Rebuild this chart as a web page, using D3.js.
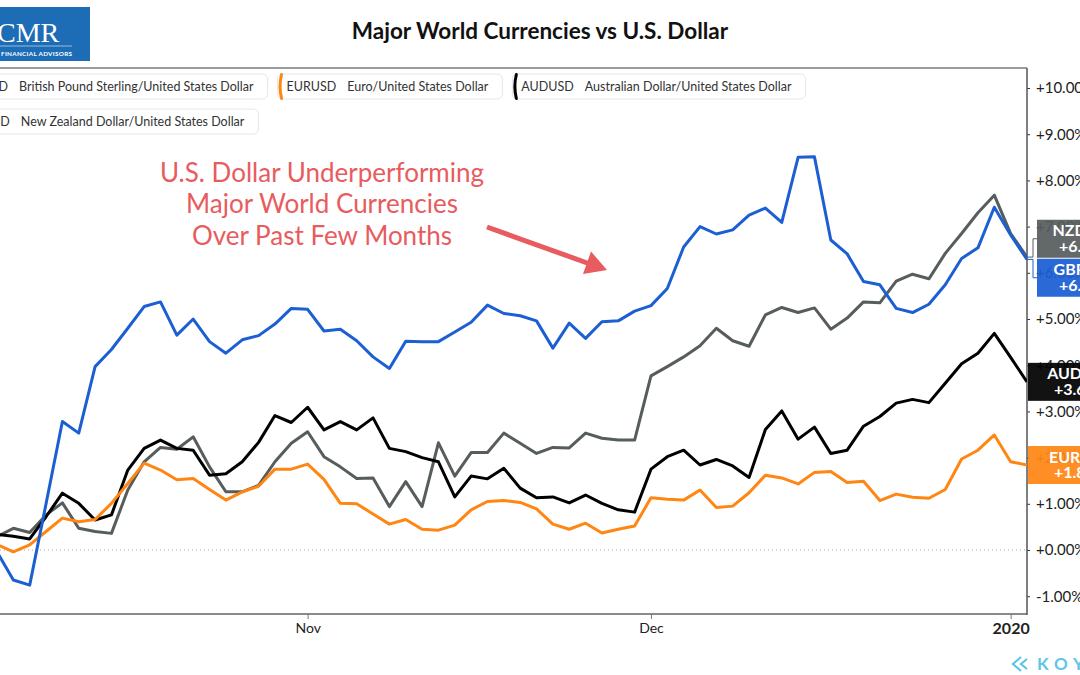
<!DOCTYPE html>
<html><head><meta charset="utf-8">
<script src="https://cdn.jsdelivr.net/npm/d3@7"></script>
<style>
html,body{margin:0;padding:0;background:#fff;}
svg{display:block;font-family:Lato,'Open Sans',sans-serif;}
</style></head><body>
<svg id="chart" width="1080" height="675"></svg>
<script>
// ---------- DATA ----------
const dates = [
 "2019-10-07","2019-10-08","2019-10-09","2019-10-10","2019-10-11",
 "2019-10-14","2019-10-15","2019-10-16","2019-10-17","2019-10-18",
 "2019-10-21","2019-10-22","2019-10-23","2019-10-24","2019-10-25",
 "2019-10-28","2019-10-29","2019-10-30","2019-10-31",
 "2019-11-01","2019-11-04","2019-11-05","2019-11-06","2019-11-07","2019-11-08",
 "2019-11-11","2019-11-12","2019-11-13","2019-11-14","2019-11-15",
 "2019-11-18","2019-11-19","2019-11-20","2019-11-21","2019-11-22",
 "2019-11-25","2019-11-26","2019-11-27","2019-11-28","2019-11-29",
 "2019-12-02","2019-12-03","2019-12-04","2019-12-05","2019-12-06",
 "2019-12-09","2019-12-10","2019-12-11","2019-12-12","2019-12-13",
 "2019-12-16","2019-12-17","2019-12-18","2019-12-19","2019-12-20",
 "2019-12-23","2019-12-24","2019-12-25","2019-12-26","2019-12-27",
 "2019-12-30","2019-12-31","2020-01-01","2020-01-02"];

const gbpusd = [-0.04,-0.65,-0.76,1.00,2.78,2.53,3.97,4.34,4.80,5.27,5.37,4.65,5.00,4.51,4.26,4.55,
 4.64,4.89,5.23,5.21,4.74,4.78,4.53,4.18,3.93,4.52,4.51,4.51,4.72,4.93,5.30,5.12,
 5.07,4.96,4.37,4.91,4.58,4.94,4.96,5.17,5.29,5.66,6.56,7.00,6.84,6.93,7.25,7.40,
 7.09,8.50,8.51,6.71,6.41,5.81,5.74,5.23,5.14,5.32,5.74,6.31,6.54,7.42,6.82,6.29];

const eurusd = [0.12,-0.04,0.11,0.40,0.69,0.61,0.66,1.01,1.44,1.88,1.73,1.52,1.55,1.31,1.08,1.26,
 1.38,1.75,1.75,1.86,1.53,1.01,1.00,0.78,0.56,0.66,0.45,0.43,0.54,0.87,1.05,1.07,
 1.03,0.89,0.56,0.45,0.58,0.37,0.45,0.52,1.13,1.10,1.08,1.30,0.92,0.95,1.24,1.62,
 1.56,1.43,1.68,1.70,1.46,1.49,1.07,1.21,1.14,1.12,1.31,1.97,2.16,2.49,1.91,1.84];

const audusd = [0.34,0.30,0.24,0.72,1.23,1.01,0.65,0.76,1.73,2.20,2.38,2.20,2.16,1.62,1.65,1.91,
 2.33,2.91,2.76,3.09,2.60,2.78,2.60,2.86,2.20,2.13,2.00,1.91,1.15,1.60,1.54,1.77,
 1.34,1.13,1.15,1.02,1.19,1.01,0.87,0.82,1.75,2.02,2.16,1.84,1.96,1.82,1.57,2.61,
 3.01,2.40,2.66,2.09,2.16,2.68,2.89,3.18,3.26,3.19,3.61,4.03,4.26,4.69,4.17,3.64];

const nzdusd = [0.29,0.47,0.38,0.76,1.02,0.47,0.40,0.36,1.30,1.91,2.22,2.18,2.45,1.80,1.26,1.26,
 1.40,1.91,2.31,2.56,2.02,1.80,1.55,1.56,0.94,1.48,0.94,2.32,1.60,2.11,2.11,2.53,
 2.31,2.09,2.22,2.21,2.53,2.42,2.38,2.38,3.77,3.97,4.18,4.42,4.80,4.53,4.41,5.09,
 5.25,5.14,5.24,4.78,5.02,5.37,5.35,5.82,5.97,5.87,6.42,6.85,7.30,7.68,6.85,6.34];

const seriesCodes  = ["GBPUSD","EURUSD","AUDUSD","NZDUSD"];
const seriesNames  = ["British Pound Sterling/United States Dollar","Euro/United States Dollar",
                      "Australian Dollar/United States Dollar","New Zealand Dollar/United States Dollar"];
const seriesValues = [gbpusd, eurusd, audusd, nzdusd];
const seriesColors = ["#1b5fd3","#ff8613","#000000","#575c5c"];

const yTickValues = [-1,0,1,2,3,4,5,6,7,8,9,10];
const xTickDates  = ["2019-11-01","2019-12-02","2020-01-01"];
const xTickLabels = ["Nov","Dec","2020"];

const titleText = "Major World Currencies vs U.S. Dollar";
const noteLines = ["U.S. Dollar Underperforming","Major World Currencies","Over Past Few Months"];

// ---------- LAYOUT ----------
const svg = d3.select("#chart");
const plot = {left:0, right:1027, top:68, bottom:614};
const red = "#e85b5e";

const x = d3.scaleLinear().domain([0, dates.length-1]).range([-3, 1027]);
const y = d3.scaleLinear().domain([-1.385, 10.433]).range([plot.bottom, plot.top]);

// logo
const logo = svg.append("g");
logo.append("rect").attr("x",0).attr("y",7).attr("width",90).attr("height",54).attr("fill","#1d6cb6");
logo.append("text").attr("x",-3).attr("y",42).attr("fill","#fff")
  .attr("font-family","'Liberation Serif','DejaVu Serif',serif").attr("font-size",28).text("CMR");
logo.append("line").attr("x1",0).attr("x2",72).attr("y1",46).attr("y2",46).attr("stroke","#fff").attr("stroke-width",0.7).attr("opacity",0.8);
logo.append("text").attr("x",1).attr("y",55.5).attr("fill","#fff").attr("font-size",6.3).attr("font-weight",700)
  .attr("textLength",71).attr("lengthAdjust","spacing").text("FINANCIAL ADVISORS");

// title
svg.append("text").attr("x",540).attr("y",39).attr("text-anchor","middle")
  .attr("font-size",22.5).attr("font-weight",700).attr("fill","#111").text(titleText);

// plot frame
svg.append("line").attr("x1",0).attr("x2",plot.right).attr("y1",plot.top).attr("y2",plot.top)
  .attr("stroke","#7a7a7a").attr("stroke-width",1.5);
svg.append("line").attr("x1",0).attr("x2",plot.right).attr("y1",plot.bottom).attr("y2",plot.bottom)
  .attr("stroke","#8a8a8a").attr("stroke-width",2);

// zero line
svg.append("line").attr("x1",0).attr("x2",plot.right).attr("y1",y(0)).attr("y2",y(0))
  .attr("stroke","#aaa").attr("stroke-width",1).attr("stroke-dasharray","1,3");

// right axis
const yAxis = d3.axisRight(y).tickValues(yTickValues).tickSize(3).tickPadding(6)
  .tickFormat(d => (d < 0 ? "" : "+") + d.toFixed(2) + "%");
const ya = svg.append("g").attr("transform",`translate(${plot.right},0)`).call(yAxis);
ya.select(".domain").remove();
ya.selectAll(".tick line").attr("stroke","#333");
ya.selectAll(".tick text").attr("font-family","Lato").attr("font-size",15).attr("fill","#222");
svg.append("line").attr("x1",plot.right).attr("x2",plot.right).attr("y1",plot.top).attr("y2",plot.bottom+1)
  .attr("stroke","#555").attr("stroke-width",1.5);

// bottom axis
const xTickIdx = xTickDates.map(d => dates.indexOf(d));
const xAxis = d3.axisBottom(x).tickValues(xTickIdx).tickSize(5).tickPadding(4)
  .tickFormat((d,i) => xTickLabels[i]);
const xa = svg.append("g").attr("transform",`translate(0,${plot.bottom})`).call(xAxis);
xa.select(".domain").remove();
xa.selectAll(".tick line").attr("stroke","#777");
xa.selectAll(".tick text").attr("font-family","Lato").attr("font-size",14).attr("fill","#222");
xa.selectAll(".tick text").filter((d,i)=>xTickLabels[i]==="2020").attr("font-weight",700).attr("font-size",16);

// lines
svg.append("clipPath").attr("id","clip").append("rect")
  .attr("x",plot.left).attr("y",plot.top).attr("width",plot.right-plot.left).attr("height",plot.bottom-plot.top);
const line = d3.line().x((d,i)=>x(i)).y(d=>y(d));
const drawOrder = [3,2,1,0];
const lg = svg.append("g").attr("clip-path","url(#clip)");
drawOrder.forEach(k => {
  lg.append("path").datum(seriesValues[k]).attr("d",line).attr("fill","none")
    .attr("stroke",seriesColors[k]).attr("stroke-width",3).attr("stroke-linejoin","round");
});

// end labels
const boxH = 38, gap = 39;
let labels = seriesValues.map((v,k)=>({k, val:v[v.length-1], yd:y(v[v.length-1])}));
labels.sort((a,b)=>a.yd-b.yd);
let groups = labels.map(l=>({items:[l]}));
let merged = true;
function place(g){ const m = d3.mean(g.items,d=>d.yd); g.items.forEach((it,i)=>it.yl = m + (i-(g.items.length-1)/2)*gap); }
groups.forEach(place);
while(merged){
  merged=false;
  for(let i=0;i<groups.length-1;i++){
    const a=groups[i], b=groups[i+1];
    if(b.items[0].yl - a.items[a.items.length-1].yl < gap){
      a.items = a.items.concat(b.items); groups.splice(i+1,1); place(a); merged=true; break;
    }
  }
}
const eg = svg.append("g");
groups.forEach(g=>{
  const shifted = g.items.length>1;
  g.items.forEach(it=>{
    const bx = shifted ? 1037 : 1028;
    const tx = shifted ? bx+49 : bx+53;
    if(shifted){
      eg.append("path").attr("d",`M${plot.right},${it.yd}H1033V${it.yl}H${bx}`)
        .attr("fill","none").attr("stroke",seriesColors[it.k]).attr("stroke-width",1);
    }
    eg.append("rect").attr("x",bx).attr("y",it.yl-boxH/2).attr("width",100).attr("height",boxH)
      .attr("fill",seriesColors[it.k]).attr("opacity",0.93);
    eg.append("text").attr("x",tx).attr("y",it.yl-2.5).attr("text-anchor","middle")
      .attr("fill","#fff").attr("font-size",16).attr("font-weight",700).text(seriesCodes[it.k]);
    eg.append("text").attr("x",tx).attr("y",it.yl+13).attr("text-anchor","middle")
      .attr("fill","#fff").attr("font-size",16).attr("font-weight",700)
      .text((it.val<0?"":"+")+it.val.toFixed(2)+"%");
  });
});

// legend
const legFont = 12.5;
const legRows = [[0,1,2],[3]];
const legG = svg.append("g");
function measure(t, size){ const n = legG.append("text").attr("font-size",size).text(t); const w=n.node().getComputedTextLength(); n.remove(); return w; }
const legLeft = 8 - measure(seriesCodes[0],legFont) - 9;
legRows.forEach((row,r)=>{
  let bx = legLeft;
  const by = 74 + r*35, bh = 25;
  row.forEach(k=>{
    const cw = measure(seriesCodes[k],legFont), dw = measure(seriesNames[k],legFont);
    const bw = 9 + cw + 11 + dw + 14;
    const g = legG.append("g");
    g.append("rect").attr("x",bx).attr("y",by).attr("width",bw).attr("height",bh).attr("rx",5)
      .attr("fill","#fff").attr("stroke","#e6e6e6").attr("stroke-width",1);
    g.append("path").attr("d",`M${bx+4},${by+0.5} Q${bx+1},${by+bh/2} ${bx+4},${by+bh-0.5}`)
      .attr("fill","none").attr("stroke",seriesColors[k]).attr("stroke-width",3).attr("stroke-linecap","round");
    g.append("text").attr("x",bx+9).attr("y",by+17).attr("font-size",legFont).attr("fill","#333").text(seriesCodes[k]);
    g.append("text").attr("x",bx+9+cw+11).attr("y",by+17).attr("font-size",legFont).attr("fill","#333").text(seriesNames[k]);
    bx += bw + 10;
  });
});

// annotation
const note = svg.append("text").attr("text-anchor","middle").attr("font-size",26).attr("fill",red);
noteLines.forEach((t,i)=> note.append("tspan").attr("x",322).attr("y",182+i*31.3).text(t));
svg.append("line").attr("x1",487).attr("y1",227).attr("x2",590).attr("y2",264)
  .attr("stroke",red).attr("stroke-width",5);
svg.append("path").attr("d","M607,270 L591,251.5 L583,274 Z").attr("fill",red);

// Koyfin mark
const kg = svg.append("g").attr("fill","none").attr("stroke","#5cc6e4").attr("stroke-width",2.2);
kg.append("path").attr("d","M1021,657 L1013,664 L1021,671");
kg.append("path").attr("d","M1027,659 L1021,664 L1027,669");
svg.append("text").attr("x",1037).attr("y",670).attr("font-size",17).attr("font-weight",700)
  .attr("letter-spacing",6).attr("fill","#5cc6e4").text("KOYFIN");
</script>
</body></html>
